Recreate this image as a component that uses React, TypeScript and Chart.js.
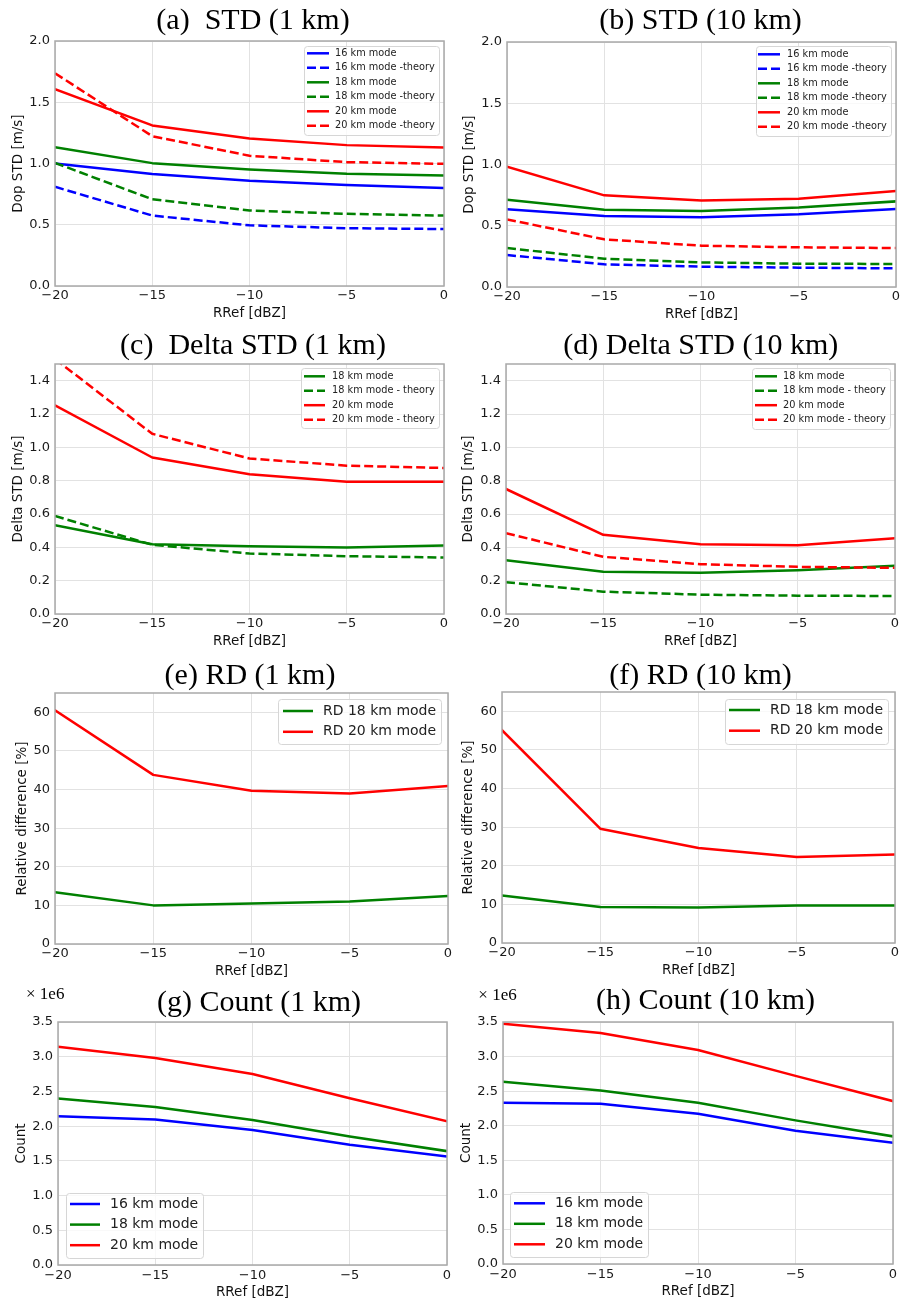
import React, { useEffect, useRef } from 'react';
import { Chart, registerables } from 'chart.js';

Chart.register(...registerables);

// ---------- data ----------
const RREF = [-20, -15, -10, -5, 0];
const X_TICKS = [-20, -15, -10, -5, 0];

const STD_YTICKS = [0, 0.5, 1.0, 1.5, 2.0];
const DELTA_YTICKS = [0, 0.2, 0.4, 0.6, 0.8, 1.0, 1.2, 1.4];
const RD_YTICKS = [0, 10, 20, 30, 40, 50, 60];
const COUNT_YTICKS = [0, 500000, 1000000, 1500000, 2000000, 2500000, 3000000, 3500000];

// (a) STD (1 km)
const A_16 = [1.0, 0.915, 0.86, 0.825, 0.8];
const A_16T = [0.81, 0.575, 0.495, 0.472, 0.465];
const A_18 = [1.132, 1.003, 0.951, 0.916, 0.902];
const A_18T = [1.005, 0.708, 0.616, 0.589, 0.575];
const A_20 = [1.607, 1.311, 1.204, 1.15, 1.131];
const A_20T = [1.737, 1.223, 1.063, 1.011, 0.997];

// (b) STD (10 km)
const B_16 = [0.634, 0.58, 0.569, 0.593, 0.637];
const B_16T = [0.261, 0.185, 0.166, 0.158, 0.152];
const B_18 = [0.713, 0.631, 0.62, 0.648, 0.699];
const B_18T = [0.318, 0.231, 0.201, 0.19, 0.188];
const B_20 = [0.982, 0.748, 0.707, 0.721, 0.784];
const B_20T = [0.552, 0.389, 0.337, 0.324, 0.318];

// (c) Delta STD (1 km)
const C_18 = [0.533, 0.419, 0.407, 0.399, 0.411];
const C_18T = [0.588, 0.415, 0.363, 0.347, 0.339];
const C_20 = [1.252, 0.939, 0.838, 0.794, 0.794];
const C_20T = [1.53, 1.081, 0.933, 0.89, 0.876];

// (d) Delta STD (10 km)
const D_18 = [0.323, 0.253, 0.247, 0.263, 0.289];
const D_18T = [0.191, 0.134, 0.116, 0.11, 0.108];
const D_20 = [0.75, 0.475, 0.419, 0.413, 0.455];
const D_20T = [0.485, 0.343, 0.299, 0.283, 0.277];

// (e) RD (1 km)
const E_18 = [13.4, 10.0, 10.5, 11.0, 12.4];
const E_20 = [60.5, 43.8, 39.7, 39.0, 40.9];

// (f) RD (10 km)
const F_18 = [12.3, 9.3, 9.2, 9.7, 9.7];
const F_20 = [55.1, 29.6, 24.6, 22.3, 22.9];

// (g) Count (1 km)
const G_16 = [2143000, 2095000, 1946000, 1731000, 1563000];
const G_18 = [2397000, 2277000, 2090000, 1850000, 1640000];
const G_20 = [3145000, 2982000, 2752000, 2402000, 2071000];

// (h) Count (10 km)
const H_16 = [2332000, 2317000, 2173000, 1928000, 1755000];
const H_18 = [2635000, 2510000, 2332000, 2077000, 1846000];
const H_20 = [3476000, 3341000, 3096000, 2721000, 2356000];

// ---------- styles ----------
const BLUE = '#0000ff';
const GREEN = '#008000';
const RED = '#ff0000';
const SANS = '"DejaVu Sans", Verdana, sans-serif';
const SERIF = '"Liberation Serif", "Times New Roman", serif';
const X_AXIS_H = 34;

const fmt1 = (v: number) => v.toFixed(1);
const fmtInt = (v: number) => String(Math.round(v));
const fmtMillion = (v: number) => (v / 1e6).toFixed(1);
const fmtX = (v: number) => (v < 0 ? '\u2212' + Math.abs(v) : String(v));

type Series = { label: string; data: number[]; color: string; dashed?: boolean };

type PanelCfg = {
  canvas: { left: number; top: number; width: number; height: number };
  plot: { L: number; T: number; R: number; B: number };
  title: { text: string; x: number; y: number };
  yTitle: string;
  yTitleX: number;
  yMax: number;
  yTicks: number[];
  yFmt: (v: number) => string;
  xTickPad: number;
  series: Series[];
  legend: { x: number; y: number; w: number; h: number; row0: number; rowStep: number; x1: number; x2: number; tx: number; font: number };
  offsetText?: { text: string; x: number; y: number };
};

const R1 = { top: 0, height: 326 };
const R2 = { top: 326, height: 324 };
const R3 = { top: 650, height: 330 };
const R4 = { top: 980, height: 322 };
const LEFT_W = 456;
const RIGHT_W = 450;

const STD_LABELS = ['16 km mode', '16 km mode -theory', '18 km mode', '18 km mode -theory', '20 km mode', '20 km mode -theory'];
const DELTA_LABELS = ['18 km mode', '18 km mode - theory', '20 km mode', '20 km mode - theory'];
const RD_LABELS = ['RD 18 km mode', 'RD 20 km mode'];
const COUNT_LABELS = ['16 km mode', '18 km mode', '20 km mode'];

const PANELS: PanelCfg[] = [
  {
    canvas: { left: 0, top: R1.top, width: LEFT_W, height: R1.height },
    plot: { L: 55, T: 41, R: 444, B: 286 },
    title: { text: '(a)  STD (1 km)', x: 253, y: 29.3 },
    yTitle: 'Dop STD [m/s]', yTitleX: 18.5, yMax: 2.0, yTicks: STD_YTICKS, yFmt: fmt1, xTickPad: 3.5,
    series: [
      { label: STD_LABELS[0], data: A_16, color: BLUE },
      { label: STD_LABELS[1], data: A_16T, color: BLUE, dashed: true },
      { label: STD_LABELS[2], data: A_18, color: GREEN },
      { label: STD_LABELS[3], data: A_18T, color: GREEN, dashed: true },
      { label: STD_LABELS[4], data: A_20, color: RED },
      { label: STD_LABELS[5], data: A_20T, color: RED, dashed: true },
    ],
    legend: { x: 304, y: 46, w: 135, h: 89, row0: 53.3, rowStep: 14.5, x1: 307, x2: 329, tx: 335, font: 9.75 },
  },
  {
    canvas: { left: 450, top: R1.top, width: RIGHT_W, height: R1.height },
    plot: { L: 507, T: 42, R: 896, B: 287 },
    title: { text: '(b) STD (10 km)', x: 700.5, y: 29.3 },
    yTitle: 'Dop STD [m/s]', yTitleX: 19.5, yMax: 2.0, yTicks: STD_YTICKS, yFmt: fmt1, xTickPad: 3.5,
    series: [
      { label: STD_LABELS[0], data: B_16, color: BLUE },
      { label: STD_LABELS[1], data: B_16T, color: BLUE, dashed: true },
      { label: STD_LABELS[2], data: B_18, color: GREEN },
      { label: STD_LABELS[3], data: B_18T, color: GREEN, dashed: true },
      { label: STD_LABELS[4], data: B_20, color: RED },
      { label: STD_LABELS[5], data: B_20T, color: RED, dashed: true },
    ],
    legend: { x: 756, y: 46, w: 135, h: 90, row0: 54.3, rowStep: 14.5, x1: 758, x2: 780, tx: 787, font: 9.75 },
  },
  {
    canvas: { left: 0, top: R2.top, width: LEFT_W, height: R2.height },
    plot: { L: 55, T: 364, R: 444, B: 614 },
    title: { text: '(c)  Delta STD (1 km)', x: 253, y: 354.3 },
    yTitle: 'Delta STD [m/s]', yTitleX: 18, yMax: 1.5, yTicks: DELTA_YTICKS, yFmt: fmt1, xTickPad: 3.5,
    series: [
      { label: DELTA_LABELS[0], data: C_18, color: GREEN },
      { label: DELTA_LABELS[1], data: C_18T, color: GREEN, dashed: true },
      { label: DELTA_LABELS[2], data: C_20, color: RED },
      { label: DELTA_LABELS[3], data: C_20T, color: RED, dashed: true },
    ],
    legend: { x: 301, y: 368, w: 138, h: 60, row0: 376.3, rowStep: 14.45, x1: 304, x2: 325, tx: 332, font: 9.75 },
  },
  {
    canvas: { left: 450, top: R2.top, width: RIGHT_W, height: R2.height },
    plot: { L: 506, T: 364, R: 895, B: 614 },
    title: { text: '(d) Delta STD (10 km)', x: 700.8, y: 354.3 },
    yTitle: 'Delta STD [m/s]', yTitleX: 18.3, yMax: 1.5, yTicks: DELTA_YTICKS, yFmt: fmt1, xTickPad: 3.5,
    series: [
      { label: DELTA_LABELS[0], data: D_18, color: GREEN },
      { label: DELTA_LABELS[1], data: D_18T, color: GREEN, dashed: true },
      { label: DELTA_LABELS[2], data: D_20, color: RED },
      { label: DELTA_LABELS[3], data: D_20T, color: RED, dashed: true },
    ],
    legend: { x: 752, y: 368, w: 138, h: 61, row0: 376.3, rowStep: 14.45, x1: 755, x2: 777, tx: 783, font: 9.75 },
  },
  {
    canvas: { left: 0, top: R3.top, width: LEFT_W, height: R3.height },
    plot: { L: 55, T: 693, R: 448, B: 944 },
    title: { text: '(e) RD (1 km)', x: 250, y: 684.3 },
    yTitle: 'Relative difference [%]', yTitleX: 22, yMax: 65, yTicks: RD_YTICKS, yFmt: fmtInt, xTickPad: 3.5,
    series: [
      { label: RD_LABELS[0], data: E_18, color: GREEN },
      { label: RD_LABELS[1], data: E_20, color: RED },
    ],
    legend: { x: 278, y: 699, w: 163, h: 45, row0: 711, rowStep: 20.8, x1: 283, x2: 313, tx: 323, font: 14 },
  },
  {
    canvas: { left: 450, top: R3.top, width: RIGHT_W, height: R3.height },
    plot: { L: 502, T: 692, R: 895, B: 943 },
    title: { text: '(f) RD (10 km)', x: 700.5, y: 684.3 },
    yTitle: 'Relative difference [%]', yTitleX: 18.3, yMax: 65, yTicks: RD_YTICKS, yFmt: fmtInt, xTickPad: 3.5,
    series: [
      { label: RD_LABELS[0], data: F_18, color: GREEN },
      { label: RD_LABELS[1], data: F_20, color: RED },
    ],
    legend: { x: 725, y: 699, w: 163, h: 45, row0: 710, rowStep: 20.7, x1: 729, x2: 760, tx: 770, font: 14 },
  },
  {
    canvas: { left: 0, top: R4.top, width: LEFT_W, height: R4.height },
    plot: { L: 58, T: 1022, R: 447, B: 1265 },
    title: { text: '(g) Count (1 km)', x: 259, y: 1010.7 },
    yTitle: 'Count', yTitleX: 21, yMax: 3500000, yTicks: COUNT_YTICKS, yFmt: fmtMillion, xTickPad: 4.5,
    series: [
      { label: COUNT_LABELS[0], data: G_16, color: BLUE },
      { label: COUNT_LABELS[1], data: G_18, color: GREEN },
      { label: COUNT_LABELS[2], data: G_20, color: RED },
    ],
    legend: { x: 66, y: 1193, w: 137, h: 65, row0: 1204, rowStep: 20.6, x1: 70, x2: 100, tx: 110, font: 14 },
    offsetText: { text: '\u00d7 1e6', x: 26, y: 999.3 },
  },
  {
    canvas: { left: 450, top: R4.top, width: RIGHT_W, height: R4.height },
    plot: { L: 503, T: 1022, R: 893, B: 1264 },
    title: { text: '(h) Count (10 km)', x: 705.5, y: 1008.7 },
    yTitle: 'Count', yTitleX: 16, yMax: 3500000, yTicks: COUNT_YTICKS, yFmt: fmtMillion, xTickPad: 4.5,
    series: [
      { label: COUNT_LABELS[0], data: H_16, color: BLUE },
      { label: COUNT_LABELS[1], data: H_18, color: GREEN },
      { label: COUNT_LABELS[2], data: H_20, color: RED },
    ],
    legend: { x: 510, y: 1192, w: 138, h: 65, row0: 1203.3, rowStep: 20.5, x1: 514, x2: 545, tx: 555, font: 14 },
    offsetText: { text: '\u00d7 1e6', x: 478.3, y: 1000 },
  },
];

function drawDecor(chart: any, cfg: PanelCfg) {
  const ctx: CanvasRenderingContext2D = chart.ctx;
  const ca = chart.chartArea;
  const ox = cfg.canvas.left;
  const oy = cfg.canvas.top;
  ctx.save();
  // frame (spines)
  ctx.setLineDash([]);
  ctx.strokeStyle = '#a9a9a9';
  ctx.lineWidth = 1.5;
  ctx.strokeRect(ca.left, ca.top, ca.right - ca.left, ca.bottom - ca.top);

  // title
  ctx.fillStyle = '#000';
  ctx.font = `30px ${SERIF}`;
  ctx.textAlign = 'center';
  ctx.textBaseline = 'alphabetic';
  ctx.fillText(cfg.title.text, cfg.title.x - ox, cfg.title.y - oy);

  // offset text
  if (cfg.offsetText) {
    ctx.font = `17px ${SERIF}`;
    ctx.textAlign = 'left';
    ctx.fillText(cfg.offsetText.text, cfg.offsetText.x - ox, cfg.offsetText.y - oy);
  }

  // legend
  const lg = cfg.legend;
  const bx = lg.x - ox;
  const by = lg.y - oy;
  ctx.beginPath();
  if ((ctx as any).roundRect) (ctx as any).roundRect(bx + 0.5, by + 0.5, lg.w, lg.h, 3);
  else ctx.rect(bx + 0.5, by + 0.5, lg.w, lg.h);
  ctx.fillStyle = 'rgba(255,255,255,0.8)';
  ctx.fill();
  ctx.strokeStyle = '#d6d6d6';
  ctx.lineWidth = 1;
  ctx.stroke();

  chart.data.datasets.forEach((ds: any, i: number) => {
    const y = lg.row0 + i * lg.rowStep - oy;
    ctx.beginPath();
    ctx.strokeStyle = ds.borderColor;
    ctx.lineWidth = 2.5;
    ctx.lineCap = 'butt';
    ctx.setLineDash(ds.borderDash && ds.borderDash.length ? ds.borderDash : []);
    ctx.moveTo(lg.x1 - ox, y);
    ctx.lineTo(lg.x2 - ox, y);
    ctx.stroke();
    ctx.setLineDash([]);
    ctx.fillStyle = '#222';
    ctx.font = `${lg.font}px ${SANS}`;
    ctx.textAlign = 'left';
    ctx.textBaseline = 'middle';
    ctx.fillText(ds.label, lg.tx - ox, y);
  });
  ctx.restore();
}

function Panel({ cfg }: { cfg: PanelCfg }) {
  const ref = useRef<HTMLCanvasElement | null>(null);
  useEffect(() => {
    const c = cfg.canvas;
    const p = cfg.plot;
    const n = cfg.series.length;
    const decor = { id: 'decor', afterDraw: (chart: any) => drawDecor(chart, cfg) };
    const chart = new Chart(ref.current as HTMLCanvasElement, {
      type: 'line',
      data: {
        datasets: cfg.series.map((s, i) => ({
          label: s.label,
          data: RREF.map((x, j) => ({ x, y: s.data[j] })),
          borderColor: s.color,
          backgroundColor: s.color,
          borderWidth: 2.5,
          borderDash: s.dashed ? [9, 4] : [],
          borderCapStyle: s.dashed ? 'butt' : 'square',
          borderJoinStyle: 'round',
          pointRadius: 0,
          pointHoverRadius: 0,
          tension: 0,
          fill: false,
          order: n - 1 - i,
        })),
      },
      options: {
        animation: false,
        responsive: false,
        maintainAspectRatio: false,
        events: [],
        layout: {
          padding: {
            left: 0,
            top: p.T - c.top,
            right: c.left + c.width - p.R,
            bottom: c.top + c.height - p.B - X_AXIS_H,
          },
        },
        plugins: {
          legend: { display: false },
          tooltip: { enabled: false },
          title: { display: false },
        },
        scales: {
          x: {
            type: 'linear',
            min: -20,
            max: 0,
            afterBuildTicks: (s: any) => {
              s.ticks = X_TICKS.map((v) => ({ value: v }));
            },
            afterFit: (s: any) => {
              s.height = X_AXIS_H;
              s.paddingLeft = 0;
              s.paddingRight = 0;
            },
            ticks: {
              callback: (v: any) => fmtX(Number(v)),
              font: { family: SANS, size: 13, lineHeight: 1 },
              color: '#1a1a1a',
              padding: cfg.xTickPad,
              maxRotation: 0,
              autoSkip: false,
            },
            grid: { color: '#e2e2e2', lineWidth: 1, drawTicks: false },
            border: { display: false },
            title: {
              display: true,
              text: 'RRef [dBZ]',
              font: { family: SANS, size: 13.5, lineHeight: 1 },
              color: '#111',
              padding: { top: 0, bottom: 0 },
            },
          },
          y: {
            type: 'linear',
            min: 0,
            max: cfg.yMax,
            afterBuildTicks: (s: any) => {
              s.ticks = cfg.yTicks.map((v) => ({ value: v }));
            },
            afterFit: (s: any) => {
              s.width = p.L - c.left;
              s.paddingTop = 0;
              s.paddingBottom = 0;
            },
            ticks: {
              callback: (v: any) => cfg.yFmt(Number(v)),
              font: { family: SANS, size: 13, lineHeight: 1 },
              color: '#1a1a1a',
              padding: 5,
              autoSkip: false,
            },
            grid: { color: '#e2e2e2', lineWidth: 1, drawTicks: false },
            border: { display: false },
            title: {
              display: true,
              text: cfg.yTitle,
              font: { family: SANS, size: 13.5, lineHeight: 1 },
              color: '#111',
              padding: { top: cfg.yTitleX - 6.75, bottom: 0 },
            },
          },
        },
      } as any,
      plugins: [decor],
    });
    return () => chart.destroy();
  }, [cfg]);

  const c = cfg.canvas;
  return (
    <canvas
      ref={ref}
      width={c.width}
      height={c.height}
      style={{ position: 'absolute', left: c.left, top: c.top, width: c.width, height: c.height }}
    />
  );
}

export default function App() {
  return (
    <div style={{ position: 'absolute', left: 0, top: 0, width: 900, height: 1302, background: '#ffffff', overflow: 'hidden' }}>
      {PANELS.map((cfg, i) => (
        <Panel key={i} cfg={cfg} />
      ))}
    </div>
  );
}
